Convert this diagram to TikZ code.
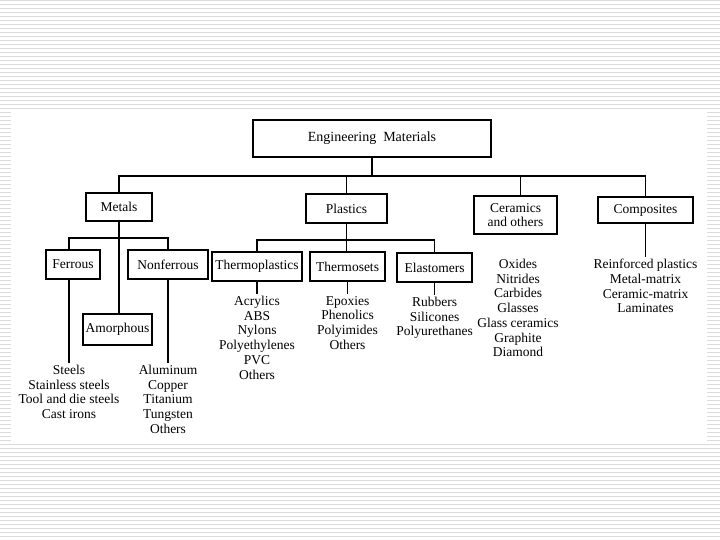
\documentclass[tikz,border=0pt]{standalone}
\usepackage{fontspec}
\setmainfont{Liberation Serif}
\begin{document}
\begin{tikzpicture}[x=1pt,y=-1pt,
  every node/.style={font=\fontsize{13.5}{14.7}\selectfont},
  box/.style={draw, line width=1.2pt, inner sep=0pt, align=center},
  lst/.style={align=center, inner xsep=0pt, inner ysep=2pt, anchor=north},
  conn/.style={line width=1.1pt},
  bgline/.style={line width=1pt, color=gray!28}]
\useasboundingbox (0,0) rectangle (720,540);
\fill[white] (0,0) rectangle (720,540);
% ruled background
\foreach \k in {0,...,27}{\draw[bgline] (0,0.5+4*\k) -- (720,0.5+4*\k);}
\foreach \k in {28,...,110}{\draw[bgline] (0,0.5+4*\k) -- (11,0.5+4*\k);
  \draw[bgline] (707,0.5+4*\k) -- (720,0.5+4*\k);}
\foreach \k in {111,...,134}{\draw[bgline] (0,0.5+4*\k) -- (720,0.5+4*\k);}

% boxes
\node[box, minimum width=238, minimum height=37] (em) at (372,138.5) {\fontsize{14}{16}\selectfont Engineering\ \ Materials};
\node[box, minimum width=66, minimum height=28] (metals) at (119,207) {Metals};
\node[box, minimum width=81, minimum height=29] (plastics) at (346.5,208.5) {Plastics};
\node[box, minimum width=83, minimum height=38] (ceramics) at (515.5,215) {Ceramics\\and others};
\node[box, minimum width=95, minimum height=26] (composites) at (645.5,210) {Composites};
\node[box, minimum width=54, minimum height=29] (ferrous) at (73,264.5) {Ferrous};
\node[box, minimum width=80, minimum height=29] (nonferrous) at (168,264.5) {Nonferrous};
\node[box, minimum width=69, minimum height=31] (amorphous) at (117.5,329.5) {Amorphous};
\node[box, minimum width=90, minimum height=29] (thermoplastics) at (257,266.5) {Thermoplastics};
\node[box, minimum width=75, minimum height=29] (thermosets) at (347.5,266.5) {Thermosets};
\node[box, minimum width=75, minimum height=29] (elastomers) at (434.5,267.5) {Elastomers};

% lists
\node[lst] (fl) at (69,363) {Steels\\Stainless steels\\Tool and die steels\\Cast irons};
\node[lst] (nl) at (168,363) {Aluminum\\Copper\\Titanium\\Tungsten\\Others};
\node[lst] (tpl) at (257,294) {Acrylics\\ABS\\Nylons\\Polyethylenes\\PVC\\Others};
\node[lst] (tsl) at (347.5,294) {Epoxies\\Phenolics\\Polyimides\\Others};
\node[lst] (ell) at (434.5,295) {Rubbers\\Silicones\\Polyurethanes};
\node[lst] (cel) at (518,257) {Oxides\\Nitrides\\Carbides\\Glasses\\Glass ceramics\\Graphite\\Diamond};
\node[lst] (col) at (645.5,257) {Reinforced plastics\\Metal-matrix\\Ceramic-matrix\\Laminates};

% connectors
\coordinate (bus) at (0,176);
\coordinate (mbus) at (0,238);
\coordinate (pbus) at (0,240);
\draw[conn] (em.south) -- (em.south |- bus);
\draw[conn] (metals.north) -- (metals.north |- bus) -- (composites.north |- bus) -- (composites.north);
\draw[conn] (plastics.north |- bus) -- (plastics.north);
\draw[conn] ([xshift=5pt]ceramics.north |- bus) -- ([xshift=5pt]ceramics.north);
\draw[conn] ([xshift=-4pt]ferrous.north) -- ([xshift=-4pt]ferrous.north |- mbus) -- (nonferrous.north |- mbus) -- (nonferrous.north);
\draw[conn] (metals.south) -- (metals.south |- amorphous.north);
\draw[conn] ([xshift=-4pt]ferrous.south) -- (fl.north);
\draw[conn] (nonferrous.south) -- (nl.north);
\draw[conn] (thermoplastics.north) -- (thermoplastics.north |- pbus) -- (elastomers.north |- pbus) -- (elastomers.north);
\draw[conn] (plastics.south) -- (plastics.south |- thermosets.north);
\draw[conn] (thermoplastics.south) -- (tpl.north);
\draw[conn] (thermosets.south) -- (tsl.north);
\draw[conn] (elastomers.south) -- (ell.north);
\draw[conn] (composites.south) -- (col.north);
\end{tikzpicture}
\end{document}
